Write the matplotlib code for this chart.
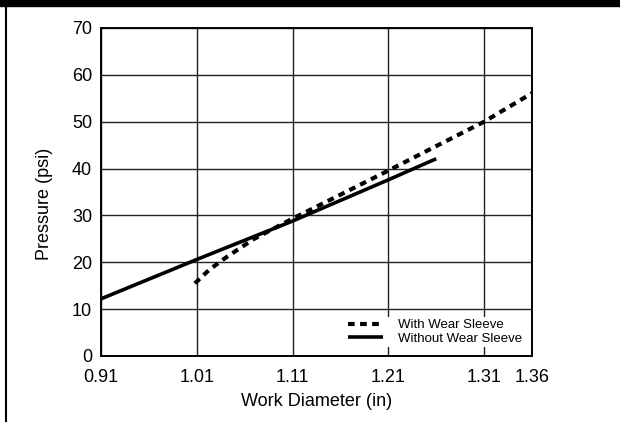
import matplotlib
matplotlib.use("Agg")
import matplotlib.pyplot as plt
from matplotlib.patches import Rectangle
from matplotlib.lines import Line2D

plt.rcParams['font.family'] = ['Liberation Sans', 'DejaVu Sans']

# Data
with_x = [1.008, 1.023, 1.041, 1.069, 1.107, 1.15, 1.2045, 1.26, 1.31, 1.36]
with_y = [15.5, 18.4, 21.1, 24.9, 29.0, 33.4, 39.0, 44.8, 50.0, 56.1]
without_x = [0.91, 1.01, 1.11, 1.21, 1.26]
without_y = [12.2, 20.6, 28.8, 37.6, 42.1]
xticks = [0.91, 1.01, 1.11, 1.21, 1.31, 1.36]
xticklabels = ["0.91", "1.01", "1.11", "1.21", "1.31", "1.36"]
yticks = [0, 10, 20, 30, 40, 50, 60, 70]

W, H = 620, 422
fig = plt.figure(figsize=(W / 100, H / 100), dpi=100)
ax = fig.add_axes([101 / W, 66 / H, 431 / W, 328 / H])

ax.plot(with_x, with_y, color='black', lw=3, linestyle=(0, (1.6, 1.3)),
        label='With Wear Sleeve', solid_capstyle='butt', dash_capstyle='butt')
ax.plot(without_x, without_y, color='black', lw=2.6, label='Without Wear Sleeve',
        solid_capstyle='butt')

ax.set_xlim(0.91, 1.36)
ax.set_ylim(0, 70)
ax.set_xticks(xticks)
ax.set_xticklabels(xticklabels)
ax.set_yticks(yticks)
ax.tick_params(axis='both', length=0, labelsize=13)
ax.tick_params(axis='x', pad=9.5)
ax.tick_params(axis='y', pad=6.5)
ax.grid(True, color='#222222', lw=1)
ax.set_axisbelow(True)
for s in ax.spines.values():
    s.set_linewidth(1.4)
    s.set_color('black')

ax.set_xlabel('Work Diameter (in)', fontsize=13, labelpad=5)
ax.set_ylabel('Pressure (psi)', fontsize=13)
ax.yaxis.set_label_coords(-0.111, 0.465)

leg = ax.legend(loc='upper left', bbox_to_anchor=(0.567, 0.1204), frameon=True,
                fontsize=9.5, handlelength=2.65, handletextpad=1.14, labelspacing=0.08,
                borderpad=0.2, borderaxespad=0, fancybox=False)
leg.get_frame().set_edgecolor('none')
leg.get_frame().set_facecolor('white')
leg.get_frame().set_alpha(1)
leg.get_frame().set_linewidth(0)

# page decorations
fig.patches.append(Rectangle((0, 1 - 6 / H), 1, 6 / H, transform=fig.transFigure,
                             color='black', zorder=5))
fig.lines.append(Line2D([5.5 / W, 5.5 / W], [0, 1], transform=fig.transFigure,
                        color='black', lw=1.5))

fig.savefig('out.png', dpi=100)
